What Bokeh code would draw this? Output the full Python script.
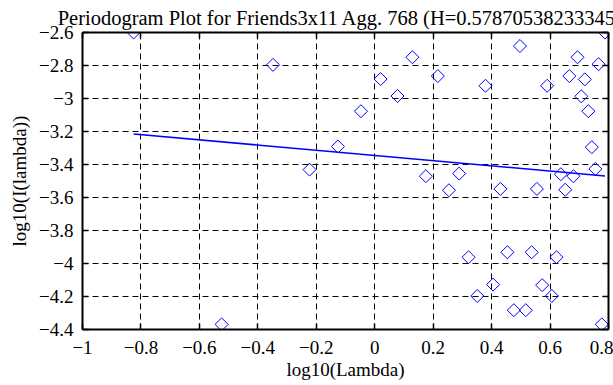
import numpy as np
from bokeh.plotting import figure
from bokeh.models import (ColumnDataSource, LinearAxis, FixedTicker,
                          CustomJSTickFormatter, Range1d, Title)
from bokeh.embed import file_html
from bokeh.resources import INLINE

# ---- data ----
log_lambda = [-0.825, -0.524, -0.348, -0.223, -0.126, -0.047, 0.020, 0.078,
              0.129, 0.175, 0.216, 0.254, 0.289, 0.321, 0.351, 0.379,
              0.405, 0.430, 0.454, 0.476, 0.497, 0.517, 0.537, 0.555,
              0.573, 0.590, 0.606, 0.622, 0.637, 0.652, 0.666, 0.680,
              0.694, 0.707, 0.719, 0.731, 0.743, 0.755, 0.766, 0.777, 0.788]
log_I = [-2.600, -4.369, -2.796, -3.431, -3.291, -3.077, -2.882, -2.985,
         -2.750, -3.471, -2.864, -3.556, -3.455, -3.962, -4.197, -2.923,
         -4.128, -3.548, -3.932, -4.283, -2.682, -4.283, -3.932, -3.548,
         -4.131, -2.923, -4.197, -3.962, -3.459, -3.553, -2.864, -3.471,
         -2.750, -2.987, -2.884, -3.077, -3.295, -3.427, -2.792, -4.369, -2.600]
fit_slope = -0.1574
fit_intercept = -3.345
x_ticks = [-1.0, -0.8, -0.6, -0.4, -0.2, 0.0, 0.2, 0.4, 0.6, 0.8]
y_ticks = [-4.4, -4.2, -4.0, -3.8, -3.6, -3.4, -3.2, -3.0, -2.8, -2.6]
title_text = "Periodogram Plot for Friends3x11 Agg. 768 (H=0.578705382333459)"
x_label = "log10(Lambda)"
y_label = "log10(I(lambda))"

FONT = "Liberation Serif"

p = figure(width=613, height=385, output_backend="svg", toolbar_location=None,
           x_range=Range1d(-1.0, 0.8), y_range=Range1d(-4.4, -2.6),
           min_border_left=81, min_border_right=5, min_border_top=30,
           min_border_bottom=56, title=title_text)
p.outline_line_color = None
p.background_fill_color = "white"
p.border_fill_color = "white"

p.title.align = "center"
p.title.text_font = FONT
p.title.text_font_style = "normal"
p.title.text_font_size = "20.5px"
p.title.text_color = "black"
p.title.standoff = 8

fmt = CustomJSTickFormatter(code="""
const s = (Math.round(tick*10)/10).toString();
return s.replace('-', '\u2212');
""")
blank = CustomJSTickFormatter(code="return '';")

def style_axis(ax, show_labels):
    ax.axis_line_width = 2
    ax.axis_line_color = "black"
    ax.major_tick_in = 6
    ax.major_tick_out = 0
    ax.major_tick_line_width = 1.5
    ax.major_tick_line_color = "black"
    ax.minor_tick_line_color = None
    ax.major_label_text_font = FONT
    ax.major_label_text_color = "black"
    ax.major_label_text_font_size = "19px"
    if show_labels:
        ax.formatter = fmt
    else:
        ax.formatter = blank
        ax.major_label_standoff = 0

xa = p.xaxis[0]
ya = p.yaxis[0]
xa.ticker = FixedTicker(ticks=x_ticks)
ya.ticker = FixedTicker(ticks=y_ticks)
style_axis(xa, True)
style_axis(ya, True)
xa.major_label_standoff = 11
ya.major_label_standoff = 9
xa.axis_label = x_label
xa.axis_label_text_font = FONT
xa.axis_label_text_font_style = "normal"
xa.axis_label_text_font_size = "19px"
xa.axis_label_text_color = "black"
xa.axis_label_standoff = 2

top = LinearAxis(ticker=FixedTicker(ticks=x_ticks))
right = LinearAxis(ticker=FixedTicker(ticks=y_ticks))
style_axis(top, False)
style_axis(right, False)
p.add_layout(top, "above")
p.add_layout(right, "right")

# y-axis label as a side title (allows shifting along the axis)
ytitle = Title(text=y_label, align="center", offset=-18, standoff=13,
               text_font=FONT, text_font_style="normal", text_font_size="19px",
               text_color="black")
p.add_layout(ytitle, "left")

p.xgrid.ticker = FixedTicker(ticks=x_ticks)
p.ygrid.ticker = FixedTicker(ticks=y_ticks)
for g in (p.xgrid[0], p.ygrid[0]):
    g.grid_line_color = "black"
    g.grid_line_dash = "6 4"
    g.grid_line_width = 1
    g.grid_line_alpha = 1.0

src = ColumnDataSource(dict(x=log_lambda, y=log_I))
p.scatter("x", "y", source=src, marker="square", angle=np.pi / 4, size=9.2,
          fill_color=None, line_color="#0000ff", line_width=1)

xs = np.array([min(log_lambda), max(log_lambda)])
p.line(xs, fit_intercept + fit_slope * xs, line_color="#0000ff", line_width=1.5)

open("out.html", "w").write(file_html(p, INLINE))
